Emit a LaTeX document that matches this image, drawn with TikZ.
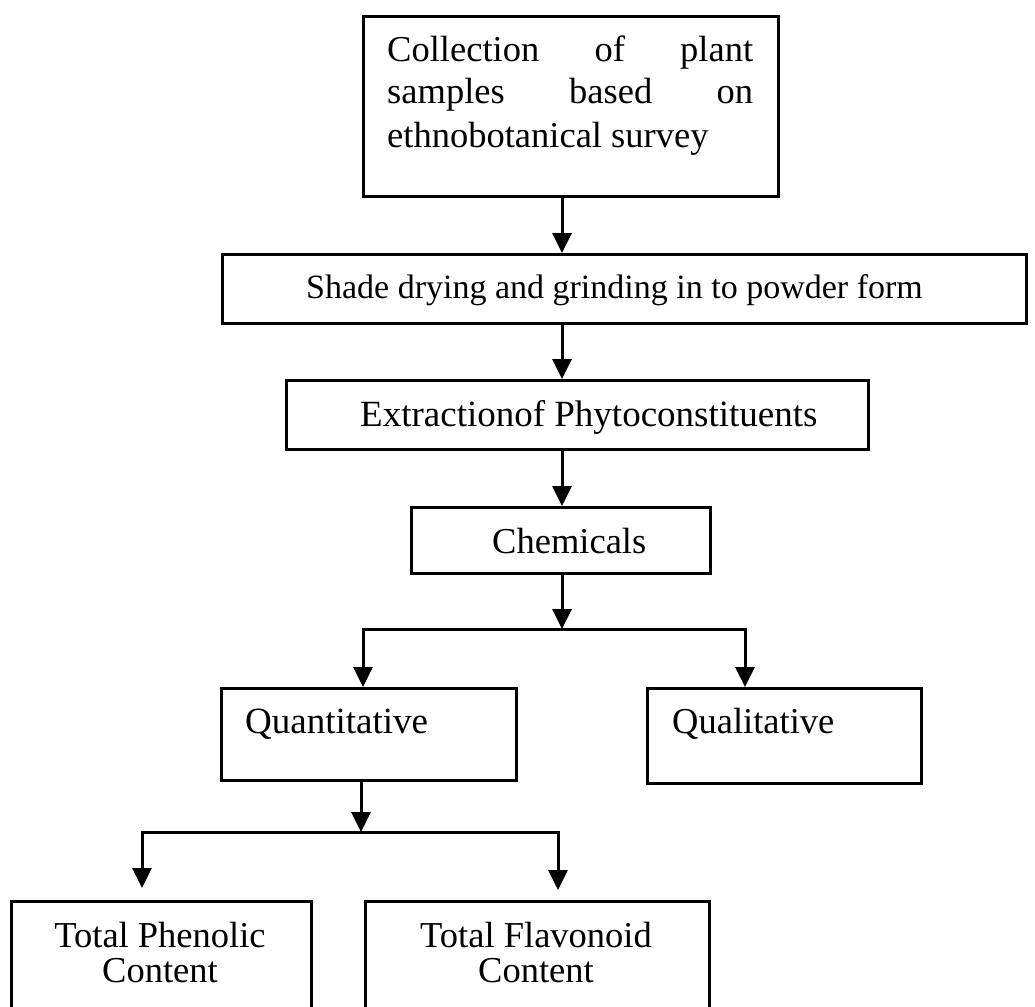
\documentclass[tikz,border=0pt]{standalone}
\usepackage{fontspec}
\setmainfont{Liberation Serif}
\usetikzlibrary{arrows.meta}
\begin{document}
\begin{tikzpicture}[x=1pt,y=-1pt,
  box/.style={draw, line width=3pt, inner sep=0pt, anchor=north west},
  txt/.style={inner sep=0pt, anchor=base west, font=\fontsize{36.5}{42}\selectfont},
  ctxt/.style={inner sep=0pt, anchor=base, font=\fontsize{36.5}{42}\selectfont},
  arr/.style={line width=3pt, -{Triangle[length=20pt,width=19pt]}},
  ln/.style={line width=3pt}]
\path[use as bounding box, clip] (0,0) rectangle (1035,1006);
% boxes
\node[box, minimum width=415pt, minimum height=180pt] (top) at (362,15) {};
\node[box, minimum width=804pt, minimum height=69pt] (shade) at (221,253) {};
\node[box, minimum width=582pt, minimum height=69pt] (extr) at (285,379) {};
\node[box, minimum width=299pt, minimum height=66pt] (chem) at (410,506) {};
\node[box, minimum width=295pt, minimum height=92pt] (quant) at (220,687) {};
\node[box, minimum width=274pt, minimum height=95pt] (qual) at (646,687) {};
\node[box, minimum width=300pt, minimum height=140pt] (phen) at (10,900) {};
\node[box, minimum width=344pt, minimum height=140pt] (flav) at (364,900) {};
% texts
\node[txt] (t1a) at (387,62) {\hbox to 366pt{Collection\hfill of\hfill plant}};
\node[txt] (t1b) at (387,104) {\hbox to 366pt{samples\hfill based\hfill on}};
\node[txt] (t1c) at (387,147) {ethnobotanical survey};
\node[txt, font=\fontsize{34}{40}\selectfont] (t2) at (306,298) {Shade drying and grinding in to powder form};
\node[txt, font=\fontsize{37}{42}\selectfont] (t3) at (360,426) {Extractionof Phytoconstituents};
\node[txt] (t4) at (492,553) {Chemicals};
\node[txt, font=\fontsize{37}{42}\selectfont] (t5) at (245,733) {Quantitative};
\node[txt] (t6) at (672,733) {Qualitative};
\node[ctxt] (t7a) at (160,947) {Total Phenolic};
\node[ctxt] (t7b) at (160,982) {Content};
\node[ctxt] (t8a) at (536,947) {Total Flavonoid};
\node[ctxt] (t8b) at (536,982) {Content};
% connector coordinates
\coordinate (mx) at (562,0);
\coordinate (s1) at (562,629);
\coordinate (b1l) at (363,629);
\coordinate (b1r) at (745,629);
\coordinate (qx) at (361,0);
\coordinate (s2) at (361,832);
\coordinate (b2l) at (142,832);
\coordinate (b2r) at (558,832);
% connectors
\draw[arr] (top.south -| mx) -- (shade.north -| mx);
\draw[arr] (shade.south -| mx) -- (extr.north -| mx);
\draw[arr] (extr.south -| mx) -- (chem.north -| mx);
\draw[arr] (chem.south -| mx) -- (s1);
\draw[ln, line cap=rect] (b1l) -- (b1r);
\draw[arr] (b1l) -- (b1l |- quant.north);
\draw[arr] (b1r) -- (b1r |- qual.north);
\draw[arr] (quant.south -| qx) -- (s2);
\draw[ln, line cap=rect] (b2l) -- (b2r);
\draw[arr, shorten >=12pt] (b2l) -- (b2l |- phen.north);
\draw[arr, shorten >=10pt] (b2r) -- (b2r |- flav.north);
\end{tikzpicture}
\end{document}
